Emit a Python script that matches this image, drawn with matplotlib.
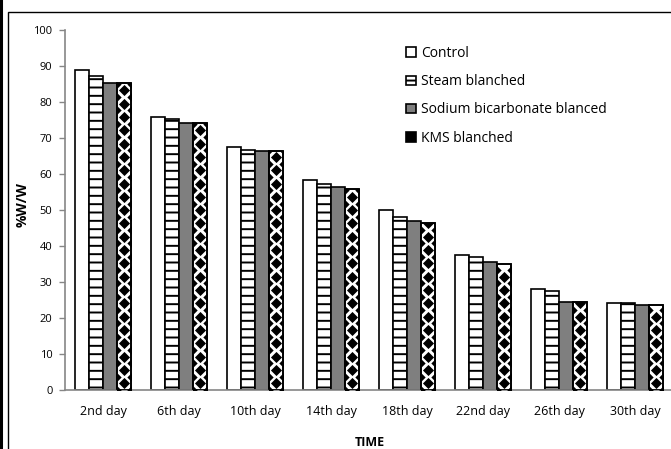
import matplotlib
matplotlib.use("Agg")
import matplotlib.pyplot as plt
from matplotlib.patches import Rectangle, Patch
from matplotlib.lines import Line2D
import numpy as np

# Moisture content per storage day and blanching treatment
days = ["2nd day", "6th day", "10th day", "14th day", "18th day", "22nd day", "26th day", "30th day"]
control = [88.8, 75.9, 67.6, 58.2, 50.0, 37.5, 28.0, 24.1]
steam = [87.2, 75.4, 66.8, 57.3, 48.1, 36.9, 27.4, 24.1]
sodium = [85.4, 74.2, 66.3, 56.3, 47.0, 35.6, 24.5, 23.6]
kms = [85.4, 74.2, 66.3, 55.8, 46.5, 35.1, 24.4, 23.6]
names = ["Control", "Steam blanched", "Sodium bicarbonate blanced", "KMS blanched"]

plt.rcParams['font.family'] = ['Open Sans', 'DejaVu Sans']
plt.rcParams['hatch.linewidth'] = 1.4

fig = plt.figure(figsize=(6.71, 4.49), dpi=100)
ax = fig.add_axes([65 / 671, 59 / 449, 608 / 671, 360 / 449])

x = np.arange(len(days))
w = 0.185
offs = [-1.5 * w, -0.5 * w, 0.5 * w, 1.5 * w]

ax.bar(x + offs[0], control, w, color="white", edgecolor="black", linewidth=1.2)
ax.bar(x + offs[1], steam, w, color="white", edgecolor="black", linewidth=1.2, hatch="--")
ax.bar(x + offs[2], sodium, w, color="#7f7f7f", edgecolor="black", linewidth=1.2)
b4 = ax.bar(x + offs[3], kms, w, color="white", edgecolor="black", linewidth=1.2)

# diamond fill pattern for the KMS bars, clipped to each bar
step = 3.7
for rect, val in zip(b4, kms):
    left = rect.get_x()
    right = left + rect.get_width()
    cx = left + rect.get_width() / 2
    ys = np.arange(step / 2, val, step)
    d1 = ax.scatter(np.full(len(ys), cx), ys, marker="D", s=32, color="black", linewidths=0, zorder=3)
    ys2 = np.arange(0, val + step, step)
    d2 = ax.scatter(np.full(len(ys2), left), ys2, marker="D", s=18, color="black", linewidths=0, zorder=3)
    d3 = ax.scatter(np.full(len(ys2), right), ys2, marker="D", s=18, color="black", linewidths=0, zorder=3)
    for d in (d1, d2, d3):
        d.set_clip_path(rect)
    ax.add_patch(Rectangle((left, 0), rect.get_width(), val, fill=False,
                           edgecolor="black", linewidth=1.2, zorder=4))

ax.set_xlim(-0.5, len(days) - 0.5)
ax.set_ylim(0, 100)
ax.set_yticks(range(0, 101, 10))
ax.set_xticks(x)
ax.set_xticklabels(days)
ax.tick_params(axis="x", length=0, pad=11, labelsize=9)
ax.tick_params(axis="y", length=4, width=1, color="#868686", pad=5, labelsize=8)

for s in ("top", "right"):
    ax.spines[s].set_visible(False)
for s in ("left", "bottom"):
    ax.spines[s].set_color("#868686")
    ax.spines[s].set_linewidth(1.2)

fig.text(23 / 671, 1 - 205 / 449, "%W/W", fontsize=10, fontweight="bold", rotation=90,
         ha="center", va="center")
fig.text(370 / 671, 1 - 442 / 449, "TIME", fontsize=9, fontweight="bold", ha="center", va="center")

handles = [
    Patch(facecolor="white", edgecolor="black", linewidth=1.2),
    Patch(facecolor="white", edgecolor="black", linewidth=1.2, hatch="---"),
    Patch(facecolor="#7f7f7f", edgecolor="black", linewidth=1.2),
    Patch(facecolor="black", edgecolor="black", linewidth=1.2, hatch="xxx"),
]
ax.legend(handles, names, loc="upper left", bbox_to_anchor=(0.54, 0.99), frameon=False, fontsize=10,
          handlelength=0.7, handleheight=0.7, handletextpad=0.4, labelspacing=0.95)

# outer chart border and left edge line
fig.add_artist(Rectangle((8 / 671, -0.2), 1.2, 1.2 - 12 / 449, transform=fig.transFigure,
                         fill=False, edgecolor="black", linewidth=1.0))
fig.add_artist(Line2D([1 / 671, 1 / 671], [0, 1], transform=fig.transFigure, color="black", linewidth=2.2))

fig.savefig("out.png", dpi=100)
